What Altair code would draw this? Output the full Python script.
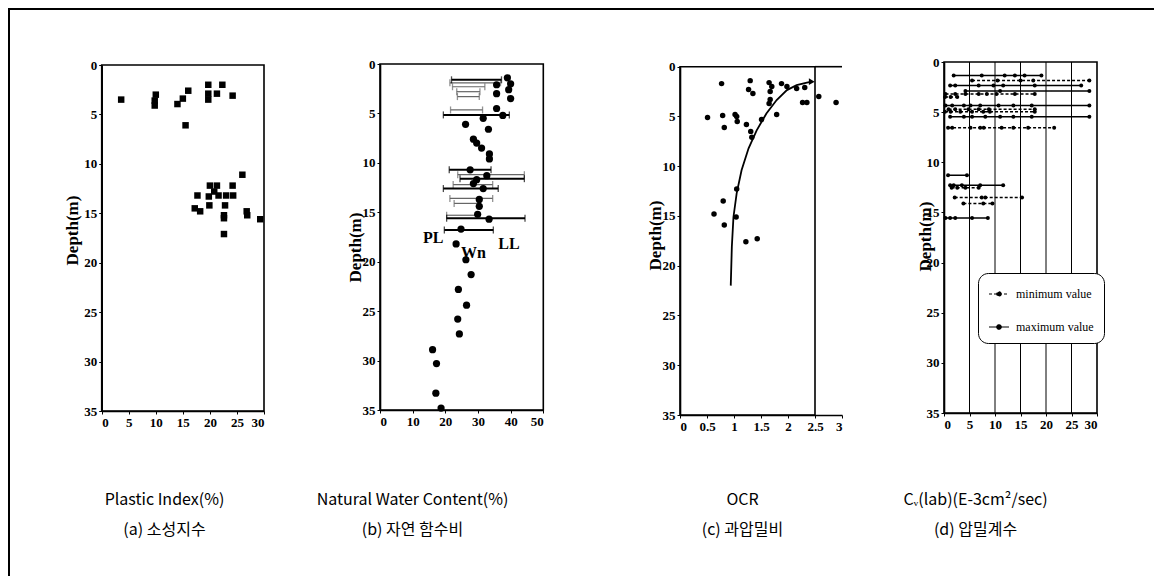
import altair as alt
import pandas as pd

# ---------------- data ----------------
# (a) plastic index vs depth
pi_value = [3.6, 10.0, 9.8, 9.8, 14.0, 15.0, 16.0, 15.5, 19.7, 19.7, 19.7, 21.3, 22.3, 24.2,
            26.0, 17.7, 17.2, 18.2, 20.0, 19.8, 19.9, 20.8, 21.3, 21.6, 23.0, 22.8, 22.6, 22.6,
            24.2, 24.3, 26.9, 26.8, 29.3, 22.6]
pi_depth = [3.5, 3.0, 3.6, 4.1, 3.95, 3.4, 2.6, 6.1, 2.0, 2.9, 3.5, 2.9, 2.0, 3.1,
            11.1, 13.2, 14.5, 14.8, 12.2, 13.3, 14.2, 12.8, 12.2, 13.2, 13.2, 14.2, 15.2, 15.5,
            12.2, 13.2, 15.2, 14.8, 15.6, 17.1]

# (b) natural water content vs depth
wn_value = [39.0, 40.0, 39.4, 35.7, 35.7, 40.0, 35.7, 37.6, 31.6, 26.2, 33.2, 28.6, 29.6,
            31.1, 33.5, 33.5, 27.6, 32.7, 29.6, 28.6, 31.6, 30.4, 30.4, 29.9, 33.4, 24.8,
            23.3, 26.3, 27.9, 24.0, 26.5, 23.8, 24.3, 16.1, 17.3, 17.1, 18.7]
wn_depth = [1.4, 2.0, 2.6, 2.1, 3.0, 3.5, 4.5, 5.2, 5.5, 6.1, 6.6, 7.6, 8.0,
            8.5, 9.1, 9.6, 10.7, 11.3, 11.7, 12.1, 12.6, 13.7, 14.4, 15.2, 15.7, 16.7,
            18.2, 19.8, 21.3, 22.8, 24.4, 25.8, 27.3, 28.9, 30.3, 33.3, 34.8]
# PL - LL ranges (dark bars / light bars)
dark_depth = [1.6, 5.15, 10.7, 11.6, 12.6, 15.6, 16.8]
dark_pl = [21.9, 19.4, 21.2, 24.5, 19.4, 20.4, 19.7]
dark_ll = [37.2, 39.6, 34.0, 44.2, 36.2, 44.4, 34.7]
light_depth = [1.9, 2.3, 2.8, 3.3, 4.65, 11.2, 12.2, 13.6, 14.1, 15.3]
light_pl = [21.4, 22.2, 23.5, 23.7, 21.6, 23.8, 22.4, 21.4, 22.7, 20.4]
light_ll = [36.9, 32.1, 30.6, 30.4, 31.4, 44.2, 34.5, 34.5, 29.9, 29.9]
label_text = ["PL", "Wn", "LL"]
label_x = [16.3, 28.6, 39.5]
label_y = [17.6, 19.1, 18.2]

# (c) OCR vs depth
ocr_value = [0.77, 1.30, 1.27, 1.35, 0.51, 0.79, 0.82, 1.02, 1.05, 1.06, 1.23, 1.31, 1.33,
             1.51, 1.79, 1.65, 1.70, 1.67, 1.67, 1.65, 1.88, 1.98, 2.16, 2.31, 2.27, 2.35,
             2.57, 2.89, 1.05, 0.80, 0.63, 0.82, 1.04, 1.22, 1.43]
ocr_depth = [1.7, 1.4, 2.3, 2.7, 5.1, 4.9, 6.1, 4.8, 5.0, 5.5, 5.8, 6.5, 7.1,
             5.3, 4.8, 1.6, 2.0, 2.5, 3.3, 3.7, 1.7, 2.0, 2.2, 2.1, 3.6, 3.6,
             3.0, 3.6, 12.3, 13.5, 14.8, 15.9, 15.1, 17.6, 17.3]
trend_ocr = [0.94, 0.96, 0.99, 1.05, 1.14, 1.27, 1.42, 1.60, 1.79, 1.98, 2.16, 2.35, 2.44]
trend_depth = [22.0, 18.1, 15.1, 12.7, 10.4, 8.2, 6.4, 4.7, 3.35, 2.35, 1.85, 1.6, 1.5]

# (d) Cv(lab) vs depth
cv_depth = [1.35, 1.85, 2.35, 2.9, 3.2, 3.5, 4.35, 4.7, 4.95, 5.45, 6.55,
            11.3, 12.3, 12.55, 13.5, 14.1, 15.55]
cv_kind = ["maximum value", "minimum value", "maximum value", "maximum value",
           "minimum value", "minimum value", "maximum value", "minimum value",
           "minimum value", "maximum value", "minimum value", "maximum value",
           "maximum value", "minimum value", "minimum value", "minimum value",
           "maximum value"]
cv_values = [
    [1.9, 7.4, 11.9, 13.9, 15.8, 19.1],
    [5.5, 10.5, 15.0, 17.5, 28.5],
    [1.2, 2.2, 6.8, 9.7, 11.6, 17.8, 26.9],
    [4.2, 11.0, 28.5],
    [0.3, 2.2, 4.2, 6.8, 8.4, 10.3, 13.9, 17.8],
    [0.2, 1.3, 2.6],
    [0.3, 1.6, 3.9, 5.2, 7.1, 10.7, 13.6, 17.2, 28.5],
    [0.9, 2.2, 4.8, 6.8, 8.8, 17.8],
    [0.2, 1.3, 3.2, 5.5, 7.7, 9.0, 17.8],
    [1.2, 3.9, 5.5, 8.1, 11.0, 13.6, 17.2, 28.5],
    [0.8, 1.6, 5.2, 7.1, 7.8, 11.3, 13.6, 16.5, 21.6],
    [0.8, 4.5],
    [1.2, 1.9, 3.5, 7.1, 11.6],
    [1.5, 2.6, 4.2, 6.8],
    [2.1, 7.4, 8.1, 15.3],
    [3.8, 7.7, 9.5],
    [0.3, 1.2, 2.2, 5.5, 8.6],
]
cv_grid = [5, 10, 15, 20, 25]
legend_labels = ["minimum value", "maximum value"]

depth_ticks = [0, 5, 10, 15, 20, 25, 30, 35]
ticks_a = [0, 5, 10, 15, 20, 25, 30]
ticks_b = [0, 10, 20, 30, 40, 50]
ticks_c = [0, 0.5, 1, 1.5, 2, 2.5, 3]
ticks_d = [0, 5, 10, 15, 20, 25, 30]

captions = {
    "a": ["Plastic Index(%)", "(a) 소성지수"],
    "b": ["Natural Water Content(%)", "(b) 자연 함수비"],
    "c": ["OCR", "(c) 과압밀비"],
    "d": ["Cᵥ(lab)(E-3cm²/sec)", "(d) 압밀계수"],
}

# ---------------- layout ----------------
W, H = 1146, 568
SERIF = "Liberation Serif"
SANS = "Noto Sans CJK KR"

common_axis = dict(
    labelFont=SERIF, labelFontSize=13, labelFontWeight="bold", labelColor="black",
    tickColor="black", tickSize=3, domainColor="black", domainWidth=1.6, grid=False,
    labelPadding=2,
)


def scales_axes(xr, yr, xvals, caption, cap_x, cap_y, ttl_x, ttl_y, fmt=None):
    xs = alt.Scale(domain=[xvals[0], xvals[-1]], range=list(xr), nice=False, zero=False)
    ys = alt.Scale(domain=[0, 35], range=list(yr), nice=False, zero=False)
    xkw = dict(orient="bottom", offset=yr[1] - H, values=xvals, title=caption,
               titleX=cap_x, titleY=cap_y, titleAlign="center", titleBaseline="alphabetic",
               titleAngle=0, titleFont=SANS, titleFontSize=16, titleFontWeight="normal",
               titleLineHeight=30, titleLimit=600, titleColor="black", **common_axis)
    if fmt:
        xkw["format"] = fmt
    xa = alt.Axis(**xkw)
    ya = alt.Axis(orient="left", offset=-xr[0], values=depth_ticks, title="Depth(m)",
                  titleX=ttl_x, titleY=ttl_y, titleAngle=270, titleAlign="center",
                  titleBaseline="middle", titleFont=SERIF, titleFontSize=17,
                  titleFontWeight="bold", titleColor="black", **common_axis)
    return xs, ys, xa, ya


def frame(x0, x1, xs, ys, xa, ya):
    df = pd.DataFrame({"x0": [x0], "x1": [x1], "y0": [0], "y1": [35]})
    return alt.Chart(df).mark_rect(fillOpacity=0, stroke="black", strokeWidth=1.6).encode(
        x=alt.X("x0:Q", scale=xs, axis=xa), x2="x1",
        y=alt.Y("y0:Q", scale=ys, axis=ya), y2="y1")


# ---- panel a ----
xs, ys, xa, ya = scales_axes((93.7, 256.0), (57.0, 403.0), ticks_a, captions["a"],
                             156, 93, -29, 222)
df_a = pd.DataFrame({"pi": pi_value, "depth": pi_depth})
panel_a = alt.layer(
    frame(0, 30, xs, ys, xa, ya),
    alt.Chart(df_a).mark_square(size=42, color="black", opacity=1).encode(
        x=alt.X("pi:Q", scale=xs, axis=xa), y=alt.Y("depth:Q", scale=ys, axis=ya)),
)

# ---- panel b ----
xs, ys, xa, ya = scales_axes((372.0, 535.3), (56.0, 402.0), ticks_b, captions["b"],
                             404, 94, -25, 239)
df_dark = pd.DataFrame({"depth": dark_depth, "pl": dark_pl, "ll": dark_ll})
df_light = pd.DataFrame({"depth": light_depth, "pl": light_pl, "ll": light_ll})


def range_bars(df, color, width):
    base = alt.Chart(df)
    return [
        base.mark_rule(color=color, strokeWidth=width).encode(
            x=alt.X("pl:Q", scale=xs, axis=xa), x2="ll",
            y=alt.Y("depth:Q", scale=ys, axis=ya)),
        base.mark_tick(orient="vertical", color=color, size=7, thickness=1.3).encode(
            x=alt.X("pl:Q", scale=xs, axis=xa), y=alt.Y("depth:Q", scale=ys, axis=ya)),
        base.mark_tick(orient="vertical", color=color, size=7, thickness=1.3).encode(
            x=alt.X("ll:Q", scale=xs, axis=xa), y=alt.Y("depth:Q", scale=ys, axis=ya)),
    ]


df_wn = pd.DataFrame({"wn": wn_value, "depth": wn_depth})
df_lab = pd.DataFrame({"t": label_text, "x": label_x, "y": label_y})
panel_b = alt.layer(
    frame(0, 50, xs, ys, xa, ya),
    *range_bars(df_light, "#666666", 1.2),
    *range_bars(df_dark, "black", 2.0),
    alt.Chart(df_wn).mark_circle(size=52, color="black", opacity=1).encode(
        x=alt.X("wn:Q", scale=xs, axis=xa), y=alt.Y("depth:Q", scale=ys, axis=ya)),
    alt.Chart(df_lab).mark_text(font=SERIF, fontSize=16, fontWeight="bold",
                                color="black").encode(
        x=alt.X("x:Q", scale=xs, axis=xa), y=alt.Y("y:Q", scale=ys, axis=ya), text="t:N"),
)

# ---- panel c ----
xs, ys, xa, ya = scales_axes((672.0, 834.0), (58.7, 407.0), ticks_c, captions["c"],
                             734, 89, -25, 227, fmt="~g")
df_ocr = pd.DataFrame({"ocr": ocr_value, "depth": ocr_depth})
df_trend = pd.DataFrame({"ocr": trend_ocr, "depth": trend_depth,
                         "i": list(range(len(trend_ocr)))})
df_top = pd.DataFrame({"x0": [2.5], "x1": [3], "y0": [0]})
panel_c = alt.layer(
    frame(0, 2.5, xs, ys, xa, ya),
    alt.Chart(df_top).mark_rule(color="black", strokeWidth=1.6).encode(
        x=alt.X("x0:Q", scale=xs, axis=xa), x2="x1", y=alt.Y("y0:Q", scale=ys, axis=ya)),
    alt.Chart(df_trend).mark_line(color="black", strokeWidth=1.8).encode(
        x=alt.X("ocr:Q", scale=xs, axis=xa), y=alt.Y("depth:Q", scale=ys, axis=ya),
        order="i:Q"),
    alt.Chart(df_trend.tail(1)).mark_point(shape="triangle-right", size=45, filled=True,
                                          color="black", opacity=1).encode(
        x=alt.X("ocr:Q", scale=xs, axis=xa), y=alt.Y("depth:Q", scale=ys, axis=ya)),
    alt.Chart(df_ocr).mark_circle(size=30, color="black", opacity=1).encode(
        x=alt.X("ocr:Q", scale=xs, axis=xa), y=alt.Y("depth:Q", scale=ys, axis=ya)),
)

# ---- panel d ----
xs, ys, xa, ya = scales_axes((936.0, 1089.0), (54.0, 405.0), ticks_d, captions["d"],
                             967, 91, -19, 228)
rows = []
for r, (dep, kind, vals) in enumerate(zip(cv_depth, cv_kind, cv_values)):
    for v in vals:
        rows.append({"row": r, "depth": dep, "kind": kind, "cv": v})
df_cv = pd.DataFrame(rows)
df_grid = pd.DataFrame({"g": cv_grid, "y0": [0] * len(cv_grid), "y1": [35] * len(cv_grid)})
panel_d = alt.layer(
    frame(0, 30, xs, ys, xa, ya),
    alt.Chart(df_grid).mark_rule(color="black", strokeWidth=1).encode(
        x=alt.X("g:Q", scale=xs, axis=xa), y=alt.Y("y0:Q", scale=ys, axis=ya), y2="y1"),
    alt.Chart(df_cv).mark_line(color="black", strokeWidth=1.5).encode(
        x=alt.X("cv:Q", scale=xs, axis=xa), y=alt.Y("depth:Q", scale=ys, axis=ya),
        detail="row:N",
        strokeDash=alt.StrokeDash(
            "kind:N",
            scale=alt.Scale(domain=legend_labels, range=[[3, 2], [1, 0]]),
            legend=alt.Legend(
                title=None, orient="none", legendX=970, legendY=265,
                strokeColor="black", cornerRadius=10, padding=10, fillColor="white",
                labelFont=SERIF, labelFontSize=12, labelColor="black",
                symbolType="M-1,0L1,0M0.22,0A0.22,0.22,0,1,1,-0.22,0A0.22,0.22,0,1,1,0.22,0",
                symbolSize=400, symbolStrokeWidth=1.2, symbolStrokeColor="black",
                symbolFillColor="black", rowPadding=16, labelOffset=6,
            ),
        )),
    alt.Chart(df_cv).mark_circle(size=16, color="black", opacity=1).encode(
        x=alt.X("cv:Q", scale=xs, axis=xa), y=alt.Y("depth:Q", scale=ys, axis=ya)),
)

# ---- outer frame (top and left edge of the figure) ----
dummy = pd.DataFrame({"a": [0]})
outer = alt.layer(
    alt.Chart(dummy).mark_rule(color="black", strokeWidth=2).encode(
        x=alt.value(0), x2=alt.value(W), y=alt.value(1)),
    alt.Chart(dummy).mark_rule(color="black", strokeWidth=2).encode(
        x=alt.value(1), y=alt.value(0), y2=alt.value(H)),
)

chart = alt.layer(panel_a, panel_b, panel_c, panel_d, outer).resolve_scale(
    x="independent", y="independent"
).properties(
    width=W, height=H, padding=0, autosize=alt.AutoSizeParams(type="none")
).configure_view(strokeWidth=0)

chart.save("out.html", embed_options={"renderer": "svg", "actions": False})
